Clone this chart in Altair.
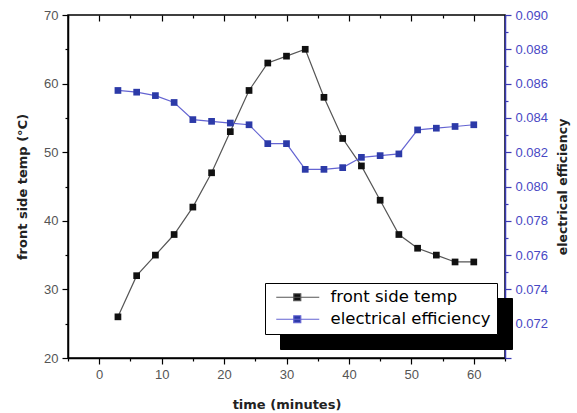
import altair as alt
import pandas as pd

# Measurements every 3 minutes
time_min = [3, 6, 9, 12, 15, 18, 21, 24, 27, 30, 33, 36, 39, 42, 45, 48, 51, 54, 57, 60]
front_temp = [26, 32, 35, 38, 42, 47, 53, 59, 63, 64, 65, 58, 52, 48, 43, 38, 36, 35, 34, 34]
elec_eff = [0.0856, 0.0855, 0.0853, 0.0849, 0.0839, 0.0838, 0.0837, 0.0836, 0.0825, 0.0825,
            0.0810, 0.0810, 0.0811, 0.0817, 0.0818, 0.0819, 0.0833, 0.0834, 0.0835, 0.0836]
series_names = ["front side temp", "electrical efficiency"]

# Axis tick positions (major + minor)
x_ticks = [-5, 0, 5, 10, 15, 20, 25, 30, 35, 40, 45, 50, 55, 60, 65]
temp_ticks = [20, 25, 30, 35, 40, 45, 50, 55, 60, 65, 70]
eff_ticks = [0.070, 0.071, 0.072, 0.073, 0.074, 0.075, 0.076, 0.077, 0.078, 0.079, 0.080,
             0.081, 0.082, 0.083, 0.084, 0.085, 0.086, 0.087, 0.088, 0.089, 0.090]

PLOT_W, PLOT_H = 437, 343
BLUE_AXIS = "#3a3ab4"
BLUE_LINE = "#6464d2"
BLUE_PT = "#2c3aa8"
LEG_X, LEG_Y = 197, 268

temp_df = pd.DataFrame({"time": time_min, "value": front_temp, "series": series_names[0]})
eff_df = pd.DataFrame({"time": time_min, "value": elec_eff, "series": series_names[1]})

x_scale = alt.Scale(domain=[-5, 65], nice=False, zero=False)
tick_len_x = {"expr": "datum.value % 10 == 0 ? 6 : 3"}

x_bottom = alt.X(
    "time:Q", scale=x_scale, title="time (minutes)",
    axis=alt.Axis(
        orient="bottom", values=x_ticks,
        labelExpr="datum.value % 10 == 0 && datum.value >= 0 && datum.value <= 60 ? datum.label : ''",
        tickSize=tick_len_x, tickColor="black", tickWidth=1.2,
        domainColor="black", domainWidth=1.5,
        labelColor="#555555", labelFont="Liberation Sans", labelFontSize=13, labelPadding=4,
        titleFont="DejaVu Sans", titleFontSize=13, titleFontWeight="bold", titleColor="#222222",
        titlePadding=17, grid=False,
    ),
)
# inward ticks along the top edge of the frame
x_top = alt.X(
    "time:Q", scale=x_scale, title=None,
    axis=alt.Axis(
        orient="bottom", offset=-PLOT_H, values=x_ticks, labels=False, domain=False,
        tickSize=tick_len_x, tickColor="black", tickWidth=1.2, grid=False,
    ),
)

y_left = alt.Y(
    "value:Q", scale=alt.Scale(domain=[20, 70], nice=False, zero=False),
    title="front side temp (°C)",
    axis=alt.Axis(
        orient="left", values=temp_ticks,
        labelExpr="datum.value % 10 == 0 ? datum.label : ''",
        tickSize={"expr": "datum.value % 10 == 0 ? 6 : 3"}, tickColor="black", tickWidth=1.2,
        domainColor="black", domainWidth=1.5,
        labelColor="#555555", labelFont="Liberation Sans", labelFontSize=13, labelPadding=4,
        titleFont="DejaVu Sans", titleFontSize=13, titleFontWeight="bold", titleColor="#222222",
        titlePadding=14, grid=False,
    ),
)
y_right = alt.Y(
    "value:Q", scale=alt.Scale(domain=[0.070, 0.090], nice=False, zero=False),
    title="electrical efficiency",
    axis=alt.Axis(
        orient="right", values=eff_ticks,
        labelExpr="round(datum.value * 1000) % 2 == 0 && datum.value > 0.0715 ? format(datum.value, '.3f') : ''",
        tickSize={"expr": "round(datum.value * 1000) % 2 == 0 ? 6 : 3"},
        tickColor=BLUE_AXIS, tickWidth=1.2, domainColor=BLUE_AXIS, domainWidth=1.5,
        labelColor="#4848c4", labelFont="Liberation Sans", labelFontSize=13, labelPadding=4,
        titleFont="DejaVu Sans", titleFontSize=12.5, titleFontWeight="bold", titleColor="#222222",
        titleAngle=270, titleBaseline="top", titlePadding=9, grid=False,
    ),
)

legend_style = dict(
    title=None, orient="none",
    symbolType="M-0.6,0H8M2.9,-0.7H4.3V0.7H2.9Z", symbolSize=100,
    symbolStrokeWidth=1.2,
    labelFont="DejaVu Sans", labelFontSize=16.5, labelOffset=43, labelLimit=0,
    rowPadding=5, padding=6, strokeColor="black",
)
legend = alt.Legend(
    legendX=LEG_X, legendY=LEG_Y, fillColor="white", labelColor="black", zindex=5,
    symbolStrokeColor={"expr": "datum.value == 'front side temp' ? '#555555' : '%s'" % BLUE_LINE},
    symbolOpacity=1, **legend_style,
)
# solid black copy of the legend box, offset down-right as a drop shadow
shadow_legend = alt.Legend(
    legendX=LEG_X + 15, legendY=LEG_Y + 15, fillColor="black", labelColor="black",
    labelOpacity=0, zindex=1, symbolOpacity=0,
    labelExpr="datum.value == 'a' ? 'front side temp' : 'electrical efficiency'",
    **legend_style,
)
color = alt.Color(
    "series:N",
    scale=alt.Scale(domain=series_names, range=["#111111", BLUE_PT]),
    legend=legend,
)

shadow = (
    alt.Chart(temp_df)
    .transform_calculate(shade="'a'")
    .mark_point(opacity=0)
    .encode(x=x_bottom, y=y_left,
            shape=alt.Shape("shade:N", scale=alt.Scale(domain=["a", "b"]), legend=shadow_legend))
)
temp_line = alt.Chart(temp_df).mark_line(color="#555555", strokeWidth=1.2).encode(x=x_bottom, y=y_left)
temp_pts = alt.Chart(temp_df).mark_square(size=45, opacity=1).encode(x=x_bottom, y=y_left, color=color)
eff_line = alt.Chart(eff_df).mark_line(color=BLUE_LINE, strokeWidth=1.2).encode(x=x_top, y=y_right)
eff_pts = alt.Chart(eff_df).mark_square(size=45, opacity=1).encode(x=x_top, y=y_right, color=color)

temp_group = alt.layer(shadow, temp_line, temp_pts)
eff_group = alt.layer(eff_line, eff_pts)

chart = (
    alt.layer(temp_group, eff_group)
    .resolve_scale(y="independent")
    .resolve_axis(x="independent", y="independent")
    .properties(
        width=PLOT_W, height=PLOT_H,
        autosize=alt.AutoSizeParams(type="none"),
        padding={"left": 68, "top": 15, "right": 72, "bottom": 55},
        background="white",
    )
    .configure_view(stroke="black", strokeWidth=1.5)
)

chart.save("out.html", embed_options={"renderer": "svg", "actions": False})
